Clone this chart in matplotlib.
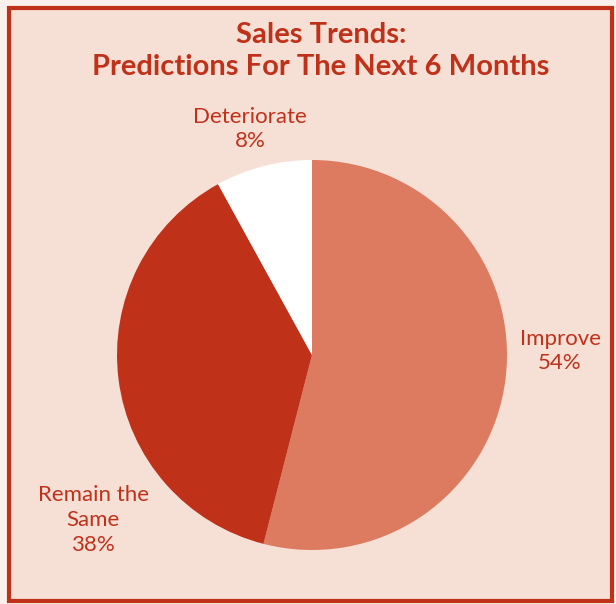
import matplotlib
matplotlib.use("Agg")
import matplotlib.pyplot as plt
from matplotlib.patches import Rectangle

# Data
categories = ["Improve", "Remain the\nSame", "Deteriorate"]
shares = [54, 38, 8]
colors = ["#DC7B5F", "#C0311A", "#FFFFFF"]

RED = "#C0311A"
W, H = 616, 604

fig = plt.figure(figsize=(W / 100, H / 100), dpi=100)
fig.patch.set_facecolor("#FAF0EC")
ax = fig.add_axes([0, 0, 1, 1])

# Framed panel
ax.add_patch(Rectangle((9, 3), 603, 593, facecolor="#F6E0D6",
                       edgecolor=RED, linewidth=3, zorder=0))

ax.pie(shares, colors=colors, startangle=90, counterclock=False,
       center=(312, 249), radius=195, frame=True,
       wedgeprops=dict(linewidth=0))
ax.set_xlim(0, W)
ax.set_ylim(0, H)
ax.set_aspect("equal")
ax.axis("off")

ax.text(321, 553, "Sales Trends:\nPredictions For The Next 6 Months",
        ha="center", va="center", fontsize=21, fontweight="bold",
        family="Lato", color=RED, linespacing=1.25)

label_pos = {"Improve": (560, 253), "Remain the\nSame": (93, 84),
             "Deteriorate": (250, 475)}
for name, val in zip(categories, shares):
    x, y = label_pos[name]
    ax.text(x, y, f"{name}\n{val}%", ha="center", va="center",
            fontsize=16, family="Lato", color=RED, linespacing=1.3)

fig.savefig("out.png", dpi=100, facecolor=fig.get_facecolor())
